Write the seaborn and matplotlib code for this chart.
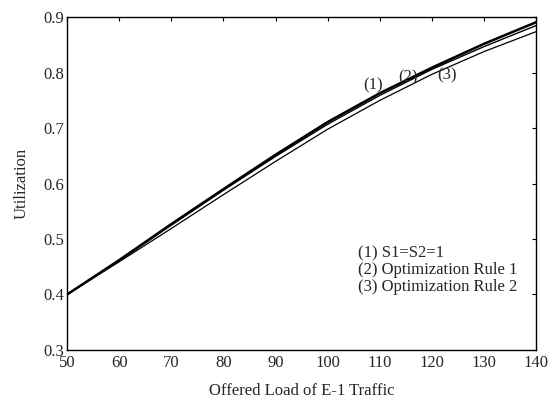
import numpy as np
import pandas as pd
import matplotlib
matplotlib.use("Agg")
import matplotlib.pyplot as plt
import seaborn as sns

# Данные
load = [50, 60, 70, 80, 90, 100, 110, 120, 130, 140]
rule_s1s2 = [0.400, 0.462, 0.527, 0.590, 0.652, 0.711, 0.763, 0.809, 0.852, 0.891]
rule_opt1 = [0.400, 0.461, 0.525, 0.588, 0.649, 0.707, 0.759, 0.806, 0.847, 0.885]
rule_opt2 = [0.400, 0.459, 0.519, 0.580, 0.640, 0.698, 0.750, 0.797, 0.838, 0.874]
series_names = ["(1)", "(2)", "(3)"]
legend_lines = ["(1) S1=S2=1", "(2) Optimization Rule 1", "(3) Optimization Rule 2"]

df = pd.DataFrame({
    "load": load * 3,
    "util": rule_s1s2 + rule_opt1 + rule_opt2,
    "rule": [n for n in series_names for _ in load],
})

sns.set_theme(style="white")
plt.rcParams["font.family"] = ["Liberation Serif", "DejaVu Serif"]
plt.rcParams["xtick.direction"] = "in"
plt.rcParams["ytick.direction"] = "in"

fig = plt.figure(figsize=(5.5, 3.99), dpi=100)
ax = fig.add_axes([0.122, 0.123, 0.853, 0.834])

sns.lineplot(data=df, x="load", y="util", hue="rule", size="rule",
             sizes={"(1)": 1.8, "(2)": 1.0, "(3)": 0.9},
             palette={"(1)": "black", "(2)": "black", "(3)": "black"},
             legend=False, ax=ax)

# Метки кривых
ax.text(108.7, 0.777, "(1)", fontsize=12, ha="center", va="center")
ax.text(115.4, 0.792, "(2)", fontsize=12, ha="center", va="center")
ax.text(122.9, 0.795, "(3)", fontsize=12, ha="center", va="center")

# Подписи-легенда
for i, line in enumerate(legend_lines):
    ax.text(105.8, 0.474 - i * 0.030, line, fontsize=12, ha="left", va="center")

ax.set_xlim(50, 140)
ax.set_ylim(0.3, 0.9)
ax.set_xticks(range(50, 141, 10))
ax.set_yticks([0.3, 0.4, 0.5, 0.6, 0.7, 0.8, 0.9])
ax.tick_params(axis="both", labelsize=12, length=3, width=0.8, color="black",
               top=True, right=True)
ax.tick_params(axis="x", pad=4)
ax.tick_params(axis="y", pad=2)
for s in ax.spines.values():
    s.set_color("black")
    s.set_linewidth(1.0)

ax.set_xlabel("Offered Load of E-1 Traffic", fontsize=12, labelpad=8)
ax.set_ylabel("Utilization", fontsize=12, labelpad=10)

fig.savefig("out.png", dpi=100, facecolor="white")
